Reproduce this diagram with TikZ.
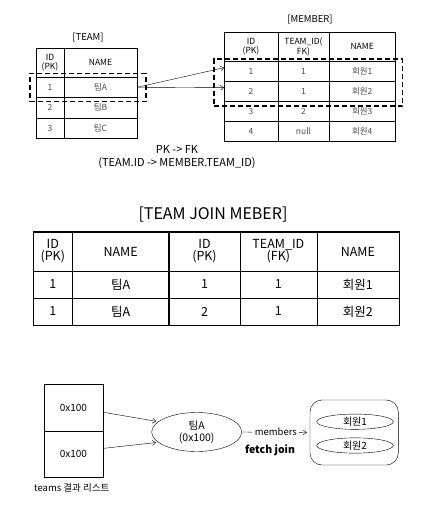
\documentclass[tikz,border=0pt]{standalone}
\usepackage{fontspec}
\setmainfont{Noto Sans CJK KR}
\usetikzlibrary{arrows.meta,shapes.geometric}

\tikzstyle{cell} = [draw,inner sep=0pt,align=center,font=\fontsize{8.5}{8.5}\selectfont]
\tikzstyle{jcell} = [draw,inner sep=0pt,align=center,font=\fontsize{12.5}{12}\selectfont]
\tikzstyle{head} = [text=black]
\tikzstyle{body} = [text=black!70]
\tikzstyle{dashbox} = [draw,line width=1.3pt,dash pattern=on 5pt off 3pt,inner sep=0pt]
\tikzstyle{arrowdecorate} = [-{Straight Barb[length=3.5pt,width=5pt]},thin]

\begin{document}
\begin{tikzpicture}[x=1pt,y=-1pt,
    listbox/.style={draw,minimum width=58.7pt,font=\fontsize{10}{11}\selectfont},
    objdecorate/.style={shape=ellipse,draw,inner sep=0pt,align=center}]
  \useasboundingbox (0,0) rectangle (435,515);
  %% TEAM table
  \node[font=\fontsize{9.5}{10}\selectfont] (teamtitle) at (88,38) {[TEAM]};
  \foreach \r/\y/\h/\s/\a/\b in {h/62.5/29/head/{ID\\(PK)}/NAME,
    1/87.25/20.5/body/1/팀A, 2/107.75/20.5/body/2/팀B, 3/128.25/20.5/body/3/팀C}
  {
    \node[cell,\s,minimum width=28pt,minimum height=\h pt] (team-\r-id) at (50,\y) {\a};
    \node[cell,\s,minimum width=73pt,minimum height=\h pt] (team-\r-name) at (100.5,\y) {\b};
  }
  %% MEMBER table
  \node[font=\fontsize{9.5}{10}\selectfont] (membertitle) at (310,20) {[MEMBER]};
  \foreach \r/\y/\h/\s/\a/\b/\c in {h/46.65/28.7/head/{ID\\(PK)}/{TEAM\_ID(\\FK)}/NAME,
    1/71/20/body/1/1/회원1, 2/91/20/body/2/1/회원2,
    3/111/20/body/3/2/회원3, 4/131/20/body/4/null/회원4}
  {
    \node[cell,\s,minimum width=53.4pt,minimum height=\h pt] (member-\r-id) at (251,\y) {\a};
    \node[cell,\s,minimum width=51.6pt,minimum height=\h pt] (member-\r-team) at (303.5,\y) {\b};
    \node[cell,\s,minimum width=65.7pt,minimum height=\h pt] (member-\r-name) at (362.2,\y) {\c};
  }
  %% selected rows
  \node[dashbox,minimum width=116pt,minimum height=28.4pt] (teamsel) at (88,87.5) {};
  \node[dashbox,minimum width=188.7pt,minimum height=47pt] (membersel) at (308.35,82.5) {};
  \draw[arrowdecorate] (team-1-name.east) -- (member-1-id.173);
  \draw[arrowdecorate] (team-1-name.east) -- (member-2-id.173);
  \node[align=center,font=\fontsize{11}{12.3}\selectfont] (pkfk) at (177,157)
    {PK -> FK\\(TEAM.ID -> MEMBER.TEAM\_ID)};
  %% join result
  \node[font=\fontsize{16}{18}\selectfont] (jointitle) at (213,215) {[TEAM JOIN MEBER]};
  \foreach \r/\y/\h/\a/\b/\c/\d/\e in {h/251.5/39/{ID\\(PK)}/NAME/{ID\\(PK)}/{TEAM\_ID\\(FK)}/NAME,
    1/284.5/27/1/팀A/1/1/회원1, 2/311.5/27/1/팀A/2/1/회원2}
  {
    \node[jcell,minimum width=39pt,minimum height=\h pt] (join-\r-a) at (52.8,\y) {\a};
    \node[jcell,minimum width=96.7pt,minimum height=\h pt] (join-\r-b) at (120.65,\y) {\b};
    \node[jcell,minimum width=71pt,minimum height=\h pt] (join-\r-c) at (204.5,\y) {\c};
    \node[jcell,minimum width=76.7pt,minimum height=\h pt] (join-\r-d) at (278.35,\y) {\d};
    \node[jcell,minimum width=82.3pt,minimum height=\h pt] (join-\r-e) at (357.85,\y) {\e};
  }
  \draw[line width=0.8pt] (join-h-a.north west) rectangle (join-2-e.south east);
  \draw[line width=1.6pt] (join-h-b.north east) -- (join-2-b.south east);
  %% objects
  \node[listbox,minimum height=47pt] (list1) at (73.35,407.5) {0x100};
  \node[listbox,minimum height=46.3pt] (list2) at (73.35,454.15) {0x100};
  \node[font=\fontsize{9.5}{10}\selectfont] (listlabel) at (71.7,488) {teams 결과 리스트};
  \node[objdecorate,minimum width=90pt,minimum height=39pt,font=\fontsize{10.5}{11.5}\selectfont]
    (teamA) at (196.7,432) {팀A\\(0x100)};
  \node[draw,rounded corners=12pt,minimum width=88.3pt,minimum height=65pt] (members) at (354.15,432.5) {};
  \node[objdecorate,minimum width=76.6pt,minimum height=15.3pt,font=\fontsize{10}{10}\selectfont]
    (member1) at (355,421.7) {회원1};
  \node[objdecorate,minimum width=76.6pt,minimum height=15.3pt,font=\fontsize{10}{10}\selectfont]
    (member2) at (355,445.5) {회원2};
  \draw[arrowdecorate,shorten >=2pt] (list1.-9) -- (teamA.165);
  \draw[arrowdecorate,shorten >=2pt] (list2.11) -- (teamA.195);
  \draw[arrowdecorate,shorten >=3pt] (teamA.east) --
    node[fill=white,inner sep=2.5pt,font=\fontsize{9.5}{10}\selectfont] {members} (members.west);
  \node[font=\bfseries\fontsize{10.5}{11}\selectfont] (fetchjoin) at (270,450) {fetch join};
\end{tikzpicture}
\end{document}
